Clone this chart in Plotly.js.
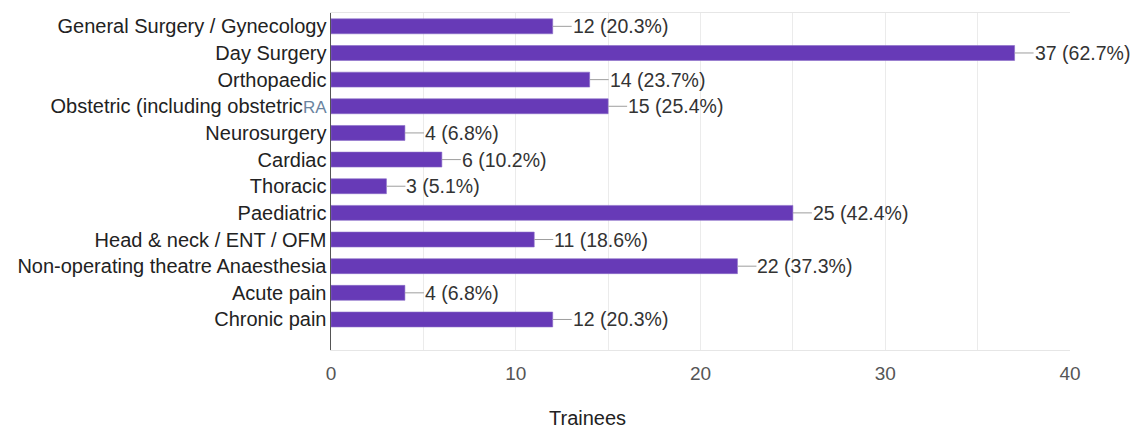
<!DOCTYPE html>
<html>
<head>
<meta charset="utf-8">
<script src="https://cdn.plot.ly/plotly-3.0.1.min.js"></script>
<style>html,body{margin:0;padding:0;background:#fff;}#chart{width:1137px;height:431px;}</style>
</head>
<body>
<div id="chart"></div>
<script>
const categories = [
  "General Surgery / Gynecology",
  "Day Surgery",
  "Orthopaedic",
  "Obstetric (including obstetric RA)",
  "Neurosurgery",
  "Cardiac",
  "Thoracic",
  "Paediatric",
  "Head & neck / ENT / OFM",
  "Non-operating theatre Anaesthesia",
  "Acute pain",
  "Chronic pain"
];
const tickLabels = [
  "General Surgery / Gynecology",
  "Day Surgery",
  "Orthopaedic",
  "Obstetric (including obstetric<span style=\"color:#6a84a0;font-size:17px\">RA</span>",
  "Neurosurgery",
  "Cardiac",
  "Thoracic",
  "Paediatric",
  "Head & neck / ENT / OFM",
  "Non-operating theatre Anaesthesia",
  "Acute pain",
  "Chronic pain"
];
const trainees = [12, 37, 14, 15, 4, 6, 3, 25, 11, 22, 4, 12];
const percents = ["20.3%", "62.7%", "23.7%", "25.4%", "6.8%", "10.2%", "5.1%", "42.4%", "18.6%", "37.3%", "6.8%", "20.3%"];
const xTickVals = [0, 5, 10, 15, 20, 25, 30, 35, 40];
const xTickText = ["0", "", "10", "", "20", "", "30", "", "40"];

const FONT = "Liberation Sans, Arial, sans-serif";

const trace = {
  type: "bar",
  orientation: "h",
  x: trainees,
  y: categories,
  width: 0.56,
  marker: {color: "#673ab7", line: {color: "#8a6cc8", width: 0.6}},
  hoverinfo: "none"
};

const annotations = trainees.map((v, i) => ({
  x: v, y: categories[i], xref: "x", yref: "y",
  text: v + " (" + percents[i] + ")",
  showarrow: true, arrowhead: 0, arrowwidth: 1, arrowcolor: "#9e9e9e",
  ax: 19, ay: 0, xanchor: "left", standoff: 0, startstandoff: 0, borderpad: 0,
  font: {family: FONT, size: 19.5, color: "#333333"}
}));
annotations.push({
  xref: "paper", yref: "paper", x: (588 - 331) / (1070.5 - 331), y: 0,
  yshift: -68, xanchor: "center", yanchor: "middle", showarrow: false,
  text: "Trainees", font: {family: FONT, size: 20, color: "#222222"}
});

const layout = {
  width: 1137, height: 431,
  margin: {l: 331, r: 66.5, t: 13, b: 81, pad: 0},
  paper_bgcolor: "#ffffff", plot_bgcolor: "#ffffff",
  showlegend: false,
  bargap: 0.44,
  xaxis: {
    range: [0, 40], tickvals: xTickVals, ticktext: xTickText,
    showgrid: true, gridcolor: "#ebebeb", gridwidth: 1,
    zeroline: false, showline: true, mirror: true, linecolor: "#e6e6e6", linewidth: 1,
    ticks: "", ticklabelstandoff: 6,
    tickfont: {family: FONT, size: 19, color: "#555555"},
    fixedrange: true
  },
  yaxis: {
    type: "category", range: [12.145, -0.5],
    tickvals: categories, ticktext: tickLabels,
    showgrid: false, zeroline: false,
    showline: true, linecolor: "#555555", linewidth: 1.5,
    ticks: "", ticklabelstandoff: -1,
    tickfont: {family: FONT, size: 20, color: "#222222"},
    fixedrange: true
  },
  annotations: annotations
};

Plotly.newPlot("chart", [trace], layout, {displayModeBar: false, staticPlot: true});
</script>
</body>
</html>
